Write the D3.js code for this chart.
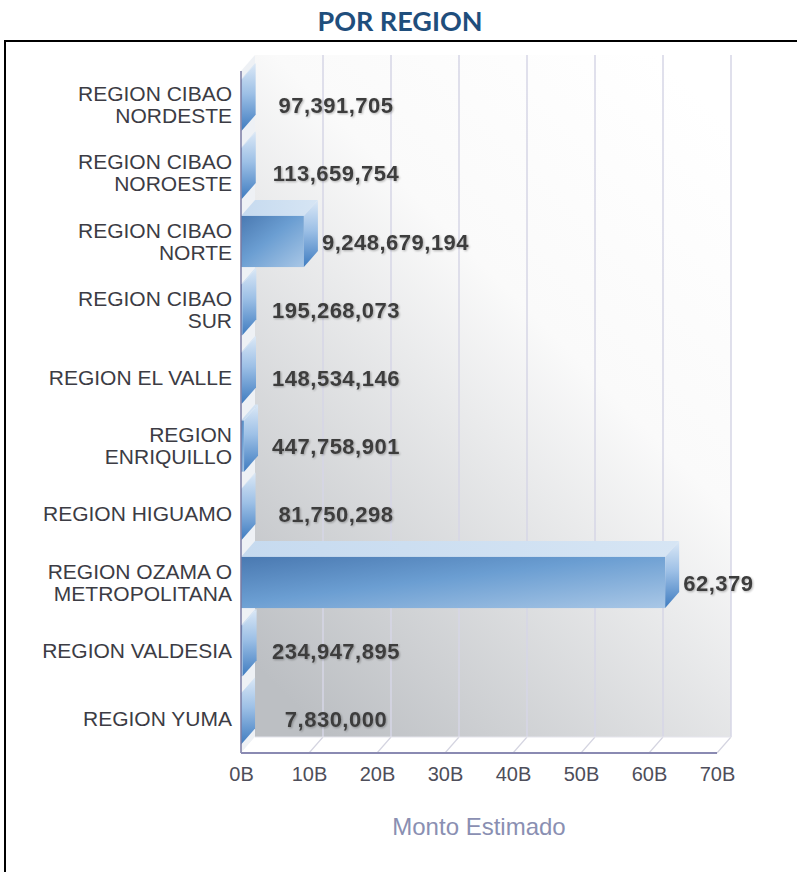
<!DOCTYPE html>
<html>
<head>
<meta charset="utf-8">
<script src="https://cdn.jsdelivr.net/npm/d3@7/dist/d3.min.js"></script>
<style>
  html, body { margin: 0; padding: 0; background: #fff; }
  svg { display: block; }
</style>
</head>
<body>
<svg id="chart" width="797" height="872"></svg>
<script>
// ---- Data ----
const categories = [
  "REGION CIBAO\nNORDESTE",
  "REGION CIBAO\nNOROESTE",
  "REGION CIBAO\nNORTE",
  "REGION CIBAO\nSUR",
  "REGION EL VALLE",
  "REGION\nENRIQUILLO",
  "REGION HIGUAMO",
  "REGION OZAMA O\nMETROPOLITANA",
  "REGION VALDESIA",
  "REGION YUMA"
];
const values = [
  97391705,
  113659754,
  9248679194,
  195268073,
  148534146,
  447758901,
  81750298,
  62379000000,
  234947895,
  7830000
];
const tickValues = [0, 10e9, 20e9, 30e9, 40e9, 50e9, 60e9, 70e9];
const tickLabels = ["0B", "10B", "20B", "30B", "40B", "50B", "60B", "70B"];
const title = "POR REGION";
const axisTitle = "Monto Estimado";

// ---- Layout ----
const svg = d3.select("#chart");
const dx = 14, dy = 16;
const front = { left: 241, right: 717, top: 71, bottom: 753 };
const labelLimit = 757;

const x = d3.scaleLinear().domain([0, 70e9]).range([front.left, front.right]);
const y = d3.scaleBand().domain(categories).range([front.top, front.bottom])
  .paddingInner(0.25).paddingOuter(0.125);

const defs = svg.append("defs");

const bg = defs.append("linearGradient").attr("id", "wallGrad")
  .attr("x1", 0.85).attr("y1", 0).attr("x2", 0.15).attr("y2", 1);
bg.append("stop").attr("offset", "0%").attr("stop-color", "#ffffff");
bg.append("stop").attr("offset", "38%").attr("stop-color", "#fafafa");
bg.append("stop").attr("offset", "100%").attr("stop-color", "#bcbfc3");

const faceGrad = defs.append("linearGradient").attr("id", "faceGrad")
  .attr("x1", 0).attr("y1", 0).attr("x2", 1).attr("y2", 1);
faceGrad.append("stop").attr("offset", "0%").attr("stop-color", "#4a79b1");
faceGrad.append("stop").attr("offset", "45%").attr("stop-color", "#6b9ed2");
faceGrad.append("stop").attr("offset", "100%").attr("stop-color", "#a9c7e6");

const topGrad = defs.append("linearGradient").attr("id", "topGrad")
  .attr("x1", 0).attr("y1", 0).attr("x2", 1).attr("y2", 0);
topGrad.append("stop").attr("offset", "0%").attr("stop-color", "#c6daef");
topGrad.append("stop").attr("offset", "100%").attr("stop-color", "#d6e5f4");

const sideGrad = defs.append("linearGradient").attr("id", "sideGrad")
  .attr("x1", 0).attr("y1", 0).attr("x2", 0).attr("y2", 1);
sideGrad.append("stop").attr("offset", "0%").attr("stop-color", "#dbe8f6");
sideGrad.append("stop").attr("offset", "45%").attr("stop-color", "#9dc0e6");
sideGrad.append("stop").attr("offset", "100%").attr("stop-color", "#3f7cc0");

const shadow = defs.append("filter").attr("id", "txtShadow")
  .attr("x", "-10%").attr("y", "-30%").attr("width", "120%").attr("height", "160%");
shadow.append("feGaussianBlur").attr("in", "SourceAlpha").attr("stdDeviation", 1.2).attr("result", "b");
shadow.append("feOffset").attr("in", "b").attr("dx", 1).attr("dy", 1).attr("result", "o");
shadow.append("feComponentTransfer").attr("in", "o").attr("result", "s")
  .append("feFuncA").attr("type", "linear").attr("slope", 0.3);
const fm = shadow.append("feMerge");
fm.append("feMergeNode").attr("in", "s");
fm.append("feMergeNode").attr("in", "SourceGraphic");

// ---- Title & frame ----
svg.append("text")
  .attr("x", 400).attr("y", 31)
  .attr("text-anchor", "middle")
  .attr("font-family", "Lato, 'Open Sans', sans-serif")
  .attr("font-weight", "bold")
  .attr("font-size", 27)
  .attr("fill", "#1f4e7c")
  .text(title);

svg.append("rect")
  .attr("x", 5).attr("y", 41).attr("width", 820).attr("height", 860)
  .attr("fill", "none").attr("stroke", "#000").attr("stroke-width", 2);

// ---- Back wall ----
const backLeft = front.left + dx, backRight = front.right + dx;
const backTop = front.top - dy, backBottom = front.bottom - dy;

svg.append("rect")
  .attr("x", backLeft).attr("y", backTop)
  .attr("width", backRight - backLeft).attr("height", backBottom - backTop)
  .attr("fill", "url(#wallGrad)");

svg.append("path")
  .attr("d", `M${front.left},${front.top}L${backLeft},${backTop}L${backLeft},${backBottom}L${front.left},${front.bottom}Z`)
  .attr("fill", "#eef1f5");

svg.append("g").selectAll("line").data(tickValues.slice(1)).join("line")
  .attr("x1", d => x(d) + dx).attr("x2", d => x(d) + dx)
  .attr("y1", backTop).attr("y2", backBottom)
  .attr("stroke", "#d6d6e6").attr("stroke-width", 1.5);

svg.append("path")
  .attr("d", `M${front.left},${front.bottom}L${backLeft},${backBottom}L${backRight},${backBottom}L${front.right},${front.bottom}Z`)
  .attr("fill", "#ffffff");
svg.append("g").selectAll("line").data(tickValues.slice(1)).join("line")
  .attr("x1", d => x(d)).attr("x2", d => x(d) + dx)
  .attr("y1", front.bottom).attr("y2", backBottom)
  .attr("stroke", "#d4d4e0").attr("stroke-width", 1.2);
svg.append("line")
  .attr("x1", backLeft).attr("x2", backRight)
  .attr("y1", backBottom).attr("y2", backBottom)
  .attr("stroke", "#e4e4ec").attr("stroke-width", 1);

// ---- Bars ----
const bars = svg.append("g").selectAll("g").data(categories).join("g");
bars.each(function(c, i) {
  const g = d3.select(this);
  const v = values[i];
  const x0 = x(0), x1 = x(v);
  const yt = y(c), yb = y(c) + y.bandwidth();
  g.append("path")
    .attr("d", `M${x0},${yt}L${x0 + dx},${yt - dy}L${x1 + dx},${yt - dy}L${x1},${yt}Z`)
    .attr("fill", "url(#topGrad)");
  if (x1 - x0 > 0.5) {
    g.append("rect")
      .attr("x", x0).attr("y", yt).attr("width", x1 - x0).attr("height", yb - yt)
      .attr("fill", "url(#faceGrad)");
  }
  g.append("path")
    .attr("d", `M${x1},${yt}L${x1 + dx},${yt - dy}L${x1 + dx},${yb - dy}L${x1},${yb}Z`)
    .attr("fill", "url(#sideGrad)");
});

svg.append("line")
  .attr("x1", front.left).attr("x2", front.left)
  .attr("y1", front.top).attr("y2", front.bottom)
  .attr("stroke", "#7a7aa2").attr("stroke-width", 1.5);
svg.append("line")
  .attr("x1", front.left).attr("x2", front.right)
  .attr("y1", front.bottom).attr("y2", front.bottom)
  .attr("stroke", "#8a8ab2").attr("stroke-width", 2);

// ---- Value labels ----
const fmt = d3.format(",");
const labels = svg.append("g");
categories.forEach((c, i) => {
  const v = values[i];
  const full = fmt(v);
  const t = labels.append("text")
    .attr("y", y(c) + y.bandwidth() / 2 + 8)
    .attr("text-anchor", "start")
    .attr("font-family", "'Liberation Sans', Arial, sans-serif")
    .attr("font-weight", "bold")
    .attr("font-size", 22)
    .attr("letter-spacing", 0.5)
    .attr("fill", "#3e3e3e")
    .attr("filter", "url(#txtShadow)")
    .text(full);
  let w = t.node().getComputedTextLength();
  let left = Math.max(x(v) + dx + 4, 336 - w / 2);
  // the reference truncates a label that runs past the plot edge
  if (left + w > labelLimit) {
    const groups = full.split(",");
    let txt = groups[0];
    for (let k = 1; k < groups.length; k++) {
      const cand = txt + "," + groups[k];
      t.text(cand);
      if (left + t.node().getComputedTextLength() > labelLimit) break;
      txt = cand;
    }
    t.text(txt);
  }
  t.attr("x", left);
});

// ---- Category labels ----
const catG = svg.append("g")
  .attr("font-family", "'Liberation Sans', Arial, sans-serif")
  .attr("font-size", 21)
  .attr("fill", "#3c3c44")
  .attr("text-anchor", "end");
categories.forEach(c => {
  const lines = c.split("\n");
  const cy = y(c) + y.bandwidth() / 2;
  const t = catG.append("text").attr("x", 232);
  if (lines.length === 1) {
    t.append("tspan").attr("x", 232).attr("y", cy + 7).text(lines[0]);
  } else {
    t.append("tspan").attr("x", 232).attr("y", cy - 4).text(lines[0]);
    t.append("tspan").attr("x", 232).attr("y", cy + 18).text(lines[1]);
  }
});

// ---- X axis tick labels ----
const xAxis = d3.axisBottom(x)
  .tickValues(tickValues)
  .tickFormat((d, i) => tickLabels[i])
  .tickSizeInner(0).tickSizeOuter(0).tickPadding(0);
const ax = svg.append("g").attr("transform", `translate(0,${front.bottom + 14})`).call(xAxis);
ax.select(".domain").remove();
ax.selectAll("text")
  .attr("font-family", "'Liberation Sans', Arial, sans-serif")
  .attr("font-size", 20)
  .attr("fill", "#4e4e5a");

// ---- Axis title ----
svg.append("text")
  .attr("x", (front.left + front.right) / 2).attr("y", 835)
  .attr("text-anchor", "middle")
  .attr("font-family", "'Liberation Sans', Arial, sans-serif")
  .attr("font-size", 24)
  .attr("fill", "#8a8fb2")
  .text(axisTitle);
</script>
</body>
</html>
